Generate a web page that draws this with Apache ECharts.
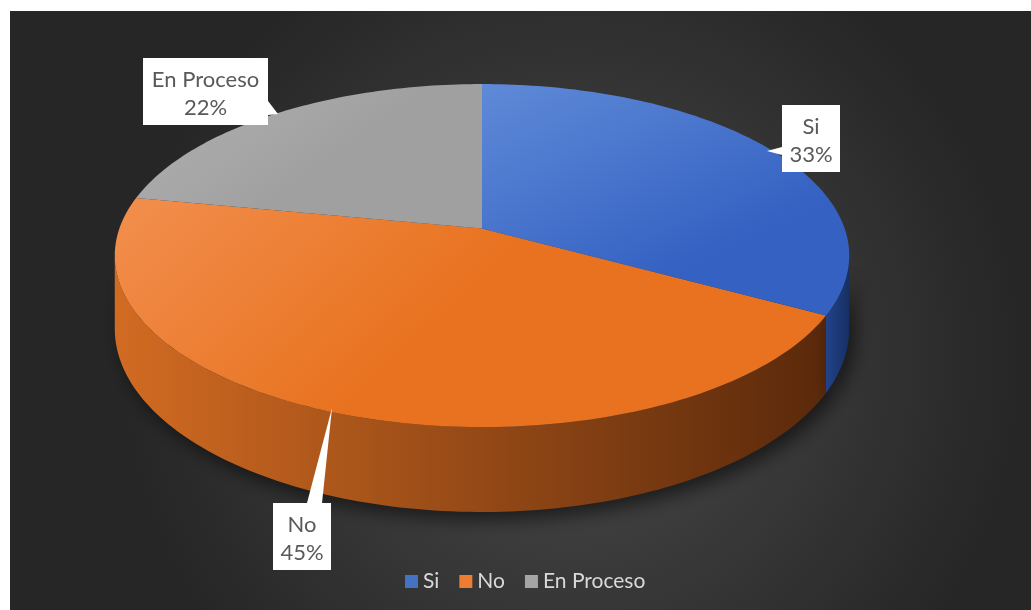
<!DOCTYPE html>
<html>
<head>
<meta charset="utf-8">
<script src="https://cdn.jsdelivr.net/npm/echarts@6/dist/echarts.min.js"></script>
<style>
  html, body { margin: 0; background: #fff; }
  #chart { position: absolute; left: 10px; top: 11px; width: 1021px; height: 599px; }
</style>
</head>
<body>
<div id="chart"></div>
<script>
// datos del gráfico
const categories = ['Si', 'No', 'En Proceso']
const values = [33, 45, 22]
const colors = ['#4472C4', '#ED7D31', '#A5A5A5']

const chart = echarts.init(document.getElementById('chart'))

// geometría de la tarta 3D (perspectiva tipo Excel)
const cx = 472
const cy = 217.4
const R = 362.6
const B = 167.2
const persp = 0.1583
const depth = 71.5

const total = values.reduce((s, v) => s + v, 0)
const starts = []
let acc = 0
values.forEach((v) => {
  starts.push(acc / total * Math.PI * 2)
  acc += v
})

// la pared lateral solo se ve de frente
const sideFrom = Math.acos(-persp)
const sideTo = Math.PI * 2 - sideFrom

function proj(phi, down) {
  const s = 1 / (1 + persp * Math.cos(phi))
  return [cx + R * Math.sin(phi) * s, cy - B * Math.cos(phi) * s + down * depth * s]
}

function arc(a0, a1, down) {
  const pts = []
  const n = Math.max(2, Math.ceil((a1 - a0) / 0.02))
  for (let k = 0; k <= n; k++) pts.push(proj(a0 + (a1 - a0) * k / n, down))
  return pts
}

const topFill = [
  ['#5f8ad8', '#3461c2'],
  ['#f28f4e', '#e8721f'],
  ['#b1b1b1', '#a0a0a0'],
]
const sideFill = [
  ['#22428a', '#172f63'],
  ['#d26b22', '#5a290b'],
  ['#8c8c8c', '#5a5a5a'],
]

// cajas de etiqueta (coordenadas locales) y punta del puntero
const labelBox = [
  { x: 772, y: 94, w: 58, h: 67, ptr: [[772, 136], [757, 140], [772, 144]] },
  { x: 263, y: 492, w: 58, h: 67, ptr: [[297, 492], [322, 397], [312, 492]] },
  { x: 133, y: 47, w: 125, h: 67, ptr: [[258, 90], [268, 103], [258, 104]] },
]

function renderSlice(i) {
  return function (params, api) {
    const a0 = starts[i]
    const a1 = a0 + api.value(0) / total * Math.PI * 2
    const children = []

    const lo = Math.max(a0, sideFrom)
    const hi = Math.min(a1, sideTo)
    if (hi > lo) {
      const pts = arc(lo, hi, 0).concat(arc(lo, hi, 1).reverse())
      children.push({
        type: 'polygon',
        z2: 1,
        shape: { points: pts },
        style: {
          fill: {
            type: 'linear', x: 0, y: 0, x2: 1, y2: 0,
            colorStops: [
              { offset: 0, color: sideFill[i][0] },
              { offset: 1, color: sideFill[i][1] },
            ],
          },
          shadowBlur: 18,
          shadowOffsetX: 6,
          shadowOffsetY: 8,
          shadowColor: 'rgba(0,0,0,0.55)',
        },
      })
    }

    const topPts = [[cx, cy]].concat(arc(a0, a1, 0))
    children.push({
      type: 'polygon',
      z2: 2,
      shape: { points: topPts },
      style: {
        fill: {
          type: 'linear', x: 0, y: 0, x2: 0.3, y2: 1,
          colorStops: [
            { offset: 0, color: topFill[i][0] },
            { offset: 1, color: topFill[i][1] },
          ],
        },
      },
    })

    const lb = labelBox[i]
    children.push({
      type: 'polygon',
      z2: 10,
      shape: { points: lb.ptr },
      style: { fill: '#fff' },
    })
    children.push({
      type: 'rect',
      z2: 10,
      shape: { x: lb.x, y: lb.y, width: lb.w, height: lb.h },
      style: { fill: '#fff' },
    })
    const pct = Math.round(api.value(0) / total * 100) + '%'
    children.push({
      type: 'text',
      z2: 11,
      style: {
        x: lb.x + lb.w / 2,
        y: lb.y + lb.h / 2 + 2,
        text: categories[i] + '\n' + pct,
        align: 'center',
        verticalAlign: 'middle',
        fill: '#595959',
        font: '22px Lato',
        lineHeight: 28,
      },
    })

    return { type: 'group', children }
  }
}

const option = {
  backgroundColor: {
    type: 'radial', x: 0.55, y: 0.58, r: 0.75,
    colorStops: [
      { offset: 0, color: '#4b4b4b' },
      { offset: 1, color: '#262626' },
    ],
  },
  animation: false,
  legend: {
    data: categories,
    left: 390,
    top: 555,
    icon: 'rect',
    itemWidth: 13,
    itemHeight: 13,
    itemGap: 20,
    textStyle: { color: '#d9d9d9', fontSize: 21, fontFamily: 'Lato' },
  },
  series: categories.map((name, i) => ({
    type: 'custom',
    name,
    coordinateSystem: 'none',
    itemStyle: { color: colors[i] },
    z: i === 0 ? 3 : 2,
    data: [[values[i]]],
    renderItem: renderSlice(i),
  })),
}

chart.setOption(option)
</script>
</body>
</html>
